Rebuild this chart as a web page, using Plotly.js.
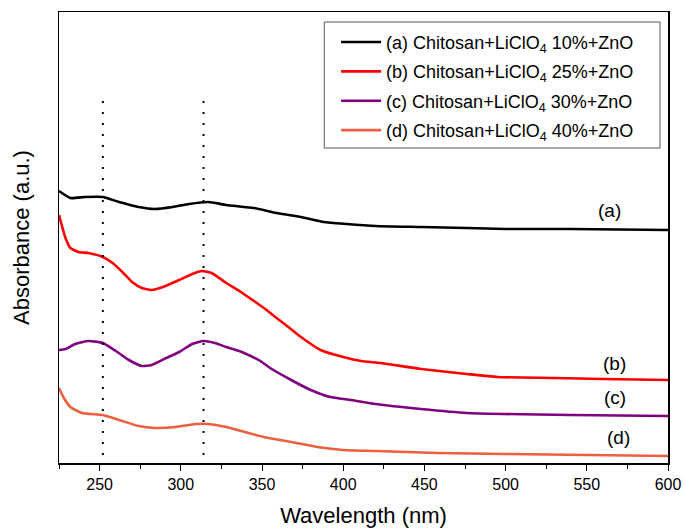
<!DOCTYPE html>
<html>
<head>
<meta charset="utf-8">
<script src="https://cdn.plot.ly/plotly-3.0.1.min.js"></script>
<style>html,body{margin:0;padding:0;background:#fff;}#chart{width:685px;height:529px;}</style>
</head>
<body>
<div id="chart"></div>
<script>
// Wavelength (nm) and absorbance (a.u.)
const wlA = [225,232,241,252,262,274,284,295,305,317,328,345,359,374,388,402,420,448,476,500,540,600];
const absA = [2.72,2.65,2.66,2.66,2.61,2.56,2.54,2.56,2.59,2.61,2.58,2.55,2.50,2.46,2.41,2.39,2.37,2.36,2.35,2.34,2.34,2.33];

const wlB = [225,227,229,232,237,243,252,258,264,270,276,282,289,299,307,313,319,328,337,345,352,359,367,374,386,400,411,423,448,476,495,530,560,600];
const absB = [2.48,2.36,2.25,2.15,2.11,2.10,2.06,2.00,1.91,1.81,1.75,1.73,1.76,1.83,1.89,1.92,1.90,1.80,1.71,1.62,1.54,1.45,1.35,1.26,1.13,1.06,1.02,1.00,0.94,0.89,0.86,0.85,0.84,0.83];

const wlC = [225,229,235,243,252,260,268,276,282,291,299,307,314,321,328,336,343,349,355,368,380,392,405,420,448,476,499,540,600];
const absC = [1.13,1.14,1.19,1.22,1.20,1.12,1.03,0.97,0.98,1.05,1.11,1.19,1.22,1.20,1.16,1.12,1.07,1.02,0.95,0.83,0.73,0.66,0.63,0.59,0.54,0.50,0.49,0.48,0.47];

const wlD = [225,228,232,239,252,262,274,284,297,309,317,328,335,351,368,384,400,420,458,499,600];
const absD = [0.75,0.65,0.56,0.50,0.48,0.43,0.37,0.35,0.36,0.39,0.39,0.36,0.33,0.26,0.21,0.16,0.13,0.12,0.10,0.09,0.07];

const seriesNames = [
  '(a) Chitosan+LiClO<sub>4</sub> 10%+ZnO',
  '(b) Chitosan+LiClO<sub>4</sub> 25%+ZnO',
  '(c) Chitosan+LiClO<sub>4</sub> 30%+ZnO',
  '(d) Chitosan+LiClO<sub>4</sub> 40%+ZnO'
];
const seriesColors = ['#000000', '#ff0000', '#800080', '#ec5f3f'];
const curveLabels = ['(a)', '(b)', '(c)', '(d)'];
const labelX = [564, 567, 567.5, 569.5];
const labelY = [2.53, 1.00, 0.66, 0.26];
const peakLines = [252, 314];

const xs = [wlA, wlB, wlC, wlD];
const ys = [absA, absB, absC, absD];

const FONT = 'Arial, "Liberation Sans", sans-serif';

const traces = xs.map((x, i) => ({
  x: x, y: ys[i], type: 'scatter', mode: 'lines', name: seriesNames[i],
  legendgroup: 'g' + i,
  line: {color: seriesColors[i], width: 2.6, shape: 'spline', smoothing: 0.5}
}));

const shapes = peakLines.map(w => ({
  type: 'line', xref: 'x', yref: 'y', x0: w, x1: w, y0: 0.08, y1: 3.70,
  line: {color: '#000', width: 2, dash: '2px,9px'}
}));
// legend frame
shapes.push({
  type: 'rect', xref: 'paper', yref: 'paper',
  x0: 0.4356, x1: 0.9869, y0: 0.6984, y1: 0.9778,
  line: {color: '#555', width: 1}, fillcolor: 'rgba(0,0,0,0)', layer: 'above'
});

const annotations = curveLabels.map((t, i) => ({
  x: labelX[i], y: labelY[i], xref: 'x', yref: 'y', text: t, showarrow: false,
  font: {family: FONT, size: 19, color: '#000'}
}));

const layout = {
  width: 685, height: 529,
  margin: {l: 58.5, r: 17, t: 12, b: 66, pad: 0},
  paper_bgcolor: '#fff', plot_bgcolor: '#fff',
  font: {family: FONT, color: '#000'},
  showlegend: true,
  legend: {
    x: 0.455, y: 0.974, xanchor: 'left', yanchor: 'top',
    bgcolor: 'rgba(0,0,0,0)', borderwidth: 0,
    font: {family: FONT, size: 18, color: '#000'},
    tracegroupgap: 3, itemwidth: 40
  },
  xaxis: {
    range: [225, 600], tickvals: [250,300,350,400,450,500,550,600],
    ticks: 'outside', ticklen: 6, tickwidth: 1, tickcolor: '#000',
    minor: {dtick: 25, tick0: 225, ticks: 'outside', ticklen: 4, tickcolor: '#000', tickwidth: 1, showgrid: false},
    showline: true, linecolor: '#000', linewidth: 1.5, mirror: true,
    showgrid: false, zeroline: false,
    tickfont: {family: FONT, size: 16, color: '#000'},
    title: {text: 'Wavelength (nm)', font: {family: FONT, size: 22, color: '#000'}, standoff: 16}
  },
  yaxis: {
    range: [0, 4.51], showticklabels: false, ticks: '',
    showline: true, linecolor: '#000', linewidth: 1.5, mirror: true,
    showgrid: false, zeroline: false, automargin: false,
    title: {text: 'Absorbance (a.u.)', font: {family: FONT, size: 22, color: '#000'}, standoff: 22}
  },
  shapes: shapes,
  annotations: annotations
};

Plotly.newPlot('chart', traces, layout, {displayModeBar: false, staticPlot: true});
</script>
</body>
</html>
